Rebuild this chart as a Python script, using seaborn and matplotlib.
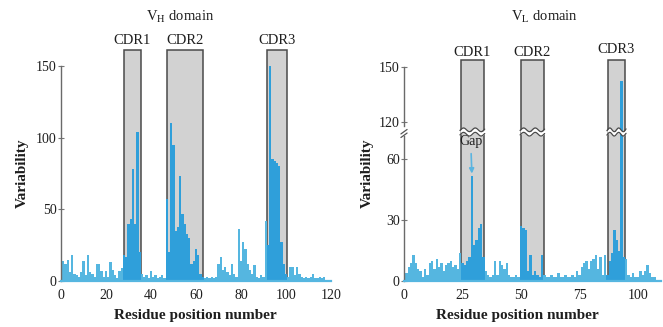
import numpy as np
import pandas as pd
import matplotlib
matplotlib.use("Agg")
import matplotlib.pyplot as plt
import matplotlib.transforms as mtransforms
from matplotlib.patches import Rectangle
import seaborn as sns

# ── Config ──────────────────────────────────────────────
sns.set_theme(style="ticks")
plt.rcParams['font.family'] = ['Liberation Serif', 'DejaVu Serif']
plt.rcParams['mathtext.fontset'] = 'stix'

BAR_IN = "#2f9fda"
BAR_OUT = "#55b6e0"
BOX = "#d2d2d2"
EDGE = "#4a4a4a"
TXT = "#1e1e1e"

# ── Data ────────────────────────────────────────────────
vh_var = [14, 12, 15, 6, 18, 5, 4, 3, 6, 14, 4, 18, 6, 5, 3, 12, 12, 7, 3, 7,
          3, 13, 8, 4, 2, 7, 9, 18, 17, 40, 43, 78, 40, 104, 20, 5, 3, 4, 2, 7,
          3, 4, 2, 3, 4, 2, 57, 20, 110, 95, 35, 38, 73, 47, 40, 33, 30, 12, 14, 22,
          18, 5, 3, 2, 3, 2, 3, 2, 3, 12, 17, 8, 10, 6, 4, 12, 5, 3, 36, 14,
          27, 22, 12, 8, 5, 11, 3, 2, 4, 3, 42, 25, 150, 85, 84, 82, 80, 27, 12, 5,
          3, 10, 10, 4, 10, 5, 3, 2, 3, 2, 3, 5, 2, 2, 3, 2, 3]
vl_var = [4, 7, 9, 13, 9, 6, 5, 2, 6, 3, 9, 10, 6, 11, 7, 9, 5, 8, 9, 10,
          7, 8, 6, 14, 9, 8, 10, 12, 52, 18, 20, 26, 28, 12, 5, 3, 2, 3, 10, 3,
          10, 8, 6, 9, 3, 2, 2, 3, 2, 27, 26, 25, 5, 13, 3, 5, 3, 2, 13, 3,
          2, 2, 3, 2, 2, 4, 2, 2, 3, 2, 2, 3, 2, 5, 3, 7, 9, 10, 6, 10,
          11, 13, 6, 12, 3, 13, 3, 10, 14, 25, 20, 15, 142, 12, 11, 3, 2, 4, 2, 2,
          5, 3, 5, 8, 4, 2, 2]

cdr_names = ["CDR1", "CDR2", "CDR3"]
vh_cdr = [(27.8, 35.4), (47.0, 63.0), (91.5, 100.6)]
vl_cdr = [(24.2, 34.2), (49.9, 59.8), (87.0, 94.6)]

vh_xticks = [0, 20, 40, 60, 80, 100, 120]
vh_yticks = [0, 50, 100, 150]
vl_xticks = [0, 25, 50, 75, 100]
vl_yticks_lo = [0, 30, 60]
vl_yticks_hi = [120, 150]

gap_pos = 29


def make_df(values, boxes):
    pos = np.arange(1, len(values) + 1)
    inside = [any(a <= p <= b for a, b in boxes) for p in pos]
    return pd.DataFrame({"pos": pos, "var": values, "cdr": inside})


def draw_bars(ax, df):
    sns.barplot(data=df, x="pos", y="var", hue="cdr",
                palette={True: BAR_IN, False: BAR_OUT},
                native_scale=True, width=1, saturation=1, linewidth=0,
                dodge=False, errorbar=None, legend=False, ax=ax, zorder=2)


def style_axis(ax):
    for s in ["top", "right"]:
        ax.spines[s].set_visible(False)
    ax.spines["left"].set_color("#6a6a6a")
    ax.spines["left"].set_linewidth(1.0)
    ax.spines["bottom"].set_color(BAR_OUT)
    ax.spines["bottom"].set_linewidth(1.6)
    ax.tick_params(axis="y", direction="inout", length=4, width=0.8,
                   color="#777777", labelsize=10, labelcolor=TXT, pad=1)
    ax.tick_params(axis="x", length=0, labelsize=10, labelcolor=TXT, pad=6)
    ax.set_xlabel("")
    ax.set_ylabel("")
    ax.grid(False)
    ax.patch.set_alpha(0)


fig = plt.figure(figsize=(6.63, 3.27), dpi=100)
W, H = 663, 327


def px_axes(x0, y_top, w, h):
    return fig.add_axes([x0 / W, 1 - (y_top + h) / H, w / W, h / H])


# ── VH domain ───────────────────────────────────────────
ax1 = px_axes(61, 66, 270, 215)
dfh = make_df(vh_var, vh_cdr)
draw_bars(ax1, dfh)
for (a, b), name in zip(vh_cdr, cdr_names):
    ax1.add_patch(Rectangle((a, 0), b - a, 161, fc=BOX, ec=EDGE, lw=1.1,
                            zorder=1, clip_on=False))
    ax1.text((a + b) / 2, 168, name, ha="center", va="center", fontsize=10.5,
             color=TXT)
ax1.set_xlim(0, 120)
ax1.set_ylim(0, 150)
ax1.set_xticks(vh_xticks)
ax1.set_xticklabels([str(t) for t in vh_xticks])
ax1.set_yticks(vh_yticks)
style_axis(ax1)

# ── VL domain (broken y axis) ───────────────────────────
lo_top, hi_bot = 73.5, 114.4
ax_lo = px_axes(404, 132, 257.4, 149)
ax_hi = px_axes(404, 66.7, 257.4, 65.3)
dfl = make_df(vl_var, vl_cdr)
draw_bars(ax_lo, dfl)
draw_bars(ax_hi, dfl)

for (a, b), name in zip(vl_cdr, cdr_names):
    ax_lo.add_patch(Rectangle((a, 0), b - a, 200, fc=BOX, ec=EDGE, lw=1.1,
                              zorder=1))
    ax_hi.add_patch(Rectangle((a, hi_bot), b - a, 153.7 - hi_bot, fc=BOX,
                              ec=EDGE, lw=1.1, zorder=1, clip_on=False))
    ax_hi.text((a + b) / 2, 159.5 if name == "CDR3" else 158, name,
               ha="center", va="center", fontsize=10.5, color=TXT)
    # wavy break across each box
    tr = mtransforms.blended_transform_factory(ax_hi.transData, ax_hi.transAxes)
    xs = np.linspace(a - 0.3, b + 0.3, 80)
    wave = 0.028 * np.sin((xs - a) / (b - a) * 4 * np.pi)
    d = 2.2 / 65.3
    ax_hi.fill_between(xs, wave - d, wave + d, color="white", transform=tr,
                       zorder=5, clip_on=False, lw=0)
    ax_hi.plot(xs, wave - d, color=EDGE, lw=0.9, transform=tr, zorder=6,
               clip_on=False)
    ax_hi.plot(xs, wave + d, color=EDGE, lw=0.9, transform=tr, zorder=6,
               clip_on=False)

for ax in (ax_lo, ax_hi):
    ax.set_xlim(0, 110)
    style_axis(ax)
ax_lo.set_ylim(0, lo_top)
ax_hi.set_ylim(hi_bot, 150)
ax_lo.set_xticks(vl_xticks)
ax_lo.set_xticklabels([str(t) for t in vl_xticks])
ax_lo.set_yticks(vl_yticks_lo)
ax_hi.set_yticks(vl_yticks_hi)
ax_hi.set_xticks([])
ax_hi.spines["bottom"].set_visible(False)
ax_lo.spines["left"].set_bounds(0, lo_top - 2)
ax_hi.spines["left"].set_bounds(hi_bot + 3, 150)

# "//" mark on the broken y axis
trb = mtransforms.blended_transform_factory(ax_lo.transAxes, ax_lo.transAxes)
for off in (-0.012, 0.012):
    ax_lo.plot([-0.012, 0.012], [0.975 + off, 1.005 + off], color="#555555",
               lw=0.9, transform=trb, clip_on=False)

ax_lo.annotate("Gap", xy=(gap_pos, vl_var[gap_pos - 1] + 1), xytext=(28.5, 69),
               ha="center", va="center", fontsize=10, color=TXT, zorder=7,
               arrowprops=dict(arrowstyle="-|>", color="#5ab4e0", lw=1.2,
                               mutation_scale=7, shrinkA=2, shrinkB=0))

# ── Titles and labels ──────────────────────────────────
fig.text(180 / W, 1 - 17 / H, r"V$_\mathrm{H}$ domain", ha="center", va="center",
         fontsize=10.5, color=TXT)
fig.text(545 / W, 1 - 17 / H, r"V$_\mathrm{L}$ domain", ha="center", va="center",
         fontsize=10.5, color=TXT)
for xc in (22, 367):
    fig.text(xc / W, 1 - 173 / H, "Variability", rotation=90, ha="center",
             va="center", fontsize=11, color=TXT, fontweight="bold")
for xc in (195, 517):
    fig.text(xc / W, 1 - 315 / H, "Residue position number", ha="center",
             va="center", fontsize=11, color=TXT, fontweight="bold")

plt.savefig("out.png", dpi=100, facecolor="white")
plt.close()
